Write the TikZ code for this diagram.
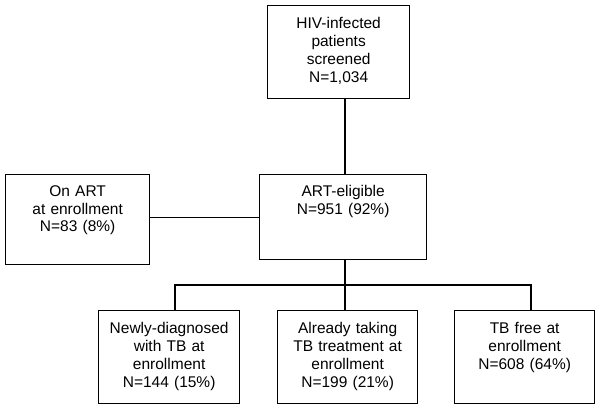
\documentclass[tikz,border=0pt]{standalone}
\usepackage{fontspec}
\setmainfont{Liberation Sans}
\usepackage{tikz}
\usetikzlibrary{positioning,calc}

\begin{document}
\begin{tikzpicture}[
    x=1pt, y=-1pt,
    box/.style = {draw, line width=1.3pt, align=center, inner sep=0pt,
      font=\fontsize{15.5}{17.9}\selectfont, anchor=north west},
    link/.style = {line width=1.3pt}
  ]
  \useasboundingbox (0,0) rectangle (600,407);

  \node[box, text width=142pt, text height=23pt, text depth=70pt] (screened) at (267,5)
    {HIV-infected\\patients\\screened\\N=1,034};
  \node[box, text width=144pt, text height=21.5pt, text depth=68.5pt] (onart) at (5,174)
    {On ART\\at enrollment\\N=83 (8\%)};
  \node[box, text width=167pt, text height=22pt, text depth=63pt] (eligible) at (259,174)
    {ART-eligible\\N=951 (92\%)};
  \node[box, text width=141pt, text height=23pt, text depth=70pt] (newtb) at (98,310)
    {Newly-diagnosed\\with TB at\\enrollment\\N=144 (15\%)};
  \node[box, text width=140pt, text height=23pt, text depth=70pt] (taking) at (277,310)
    {Already taking\\TB treatment at\\enrollment\\N=199 (21\%)};
  \node[box, text width=140pt, text height=23pt, text depth=70pt] (tbfree) at (454,310)
    {TB free at\\enrollment\\N=608 (64\%)};

  % branch points
  \coordinate (trunk) at (345,285);
  \coordinate (lbranch) at (175,285);
  \coordinate (rbranch) at (531,285);

  \draw[link] (screened.south -| trunk) -- (eligible.north -| trunk);
  \draw[link] (eligible.west) -- (eligible.west -| onart.east);
  \draw[link] (eligible.south -| trunk) -- (trunk) -- (trunk |- taking.north);
  \draw[link] (lbranch |- newtb.north) -- (lbranch) -- (rbranch) -- (rbranch |- tbfree.north);
\end{tikzpicture}
\end{document}
